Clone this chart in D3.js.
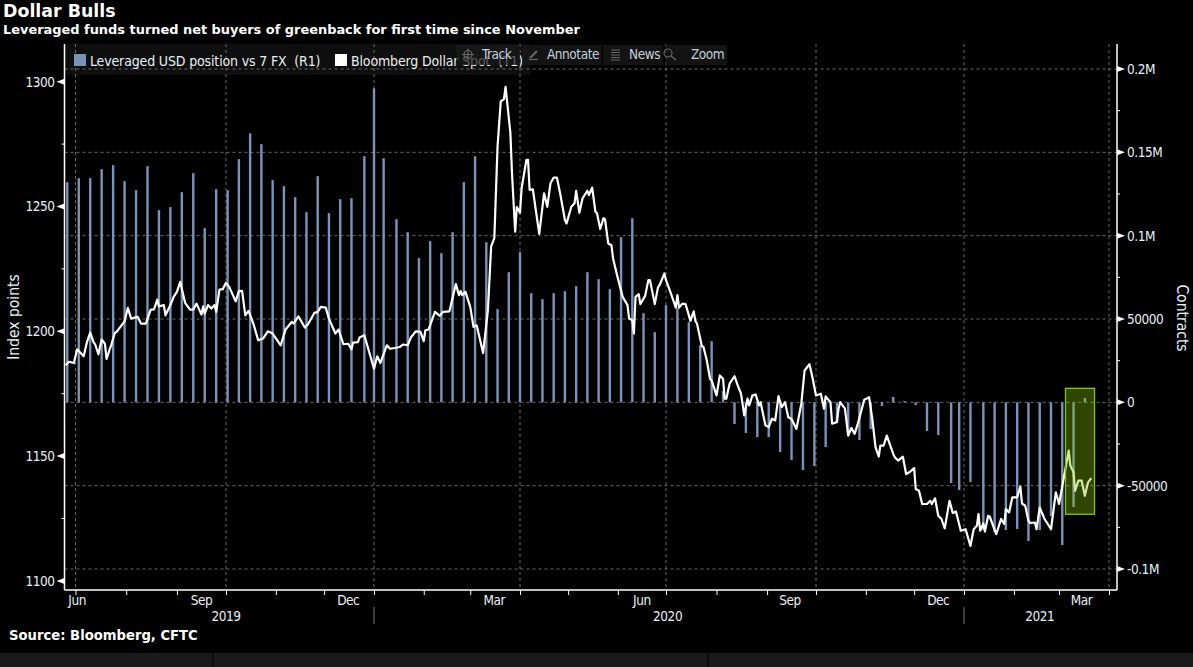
<!DOCTYPE html>
<html>
<head>
<meta charset="utf-8">
<script src="https://cdnjs.cloudflare.com/ajax/libs/d3/7.8.5/d3.min.js"></script>
<style>
  html, body { margin: 0; padding: 0; background: #000; overflow: hidden; }
  text { fill: #e9eff5; }
  .tick-label { font-family: "DejaVu Sans Condensed", "DejaVu Sans", sans-serif; font-stretch: condensed; font-size: 13.5px; letter-spacing: -0.45px; }
  .head { font-family: "DejaVu Sans", sans-serif; font-weight: bold; fill: #fff; }
  .grid { stroke: #6a6a6a; stroke-width: 1; stroke-dasharray: 3 3; fill: none; }
  .domain { stroke: #fff; stroke-width: 1.5; }
</style>
</head>
<body>
<div class="wrapper"></div>
<script>
var width = 1193, height = 667;
var parseDate = d3.utcParse("%Y-%m-%d");

// weekly leveraged fund positions, in thousands of contracts
var positionDates = [
  "2019-06-26","2019-07-03","2019-07-10","2019-07-17","2019-07-24","2019-07-31","2019-08-07","2019-08-14","2019-08-21","2019-08-28",
  "2019-09-04","2019-09-11","2019-09-18","2019-09-25","2019-10-02","2019-10-09","2019-10-16","2019-10-23","2019-10-30","2019-11-06",
  "2019-11-13","2019-11-20","2019-11-27","2019-12-04","2019-12-11","2019-12-18","2019-12-26","2020-01-01","2020-01-07","2020-01-15",
  "2020-01-22","2020-01-29","2020-02-05","2020-02-12","2020-02-19","2020-02-26","2020-03-04","2020-03-11","2020-03-18","2020-03-25",
  "2020-04-01","2020-04-08","2020-04-15","2020-04-22","2020-04-29","2020-05-06","2020-05-13","2020-05-20","2020-05-27","2020-06-03",
  "2020-06-10","2020-06-17","2020-06-24","2020-07-01","2020-07-08","2020-07-15","2020-07-22","2020-07-29","2020-08-05","2020-08-12",
  "2020-08-19","2020-08-26","2020-09-02","2020-09-09","2020-09-16","2020-09-23","2020-09-30","2020-10-07","2020-10-14","2020-10-21",
  "2020-10-28","2020-11-04","2020-11-11","2020-11-18","2020-11-25","2020-12-02","2020-12-09","2020-12-16","2020-12-24","2020-12-29",
  "2021-01-05","2021-01-13","2021-01-20","2021-01-27","2021-02-03","2021-02-10","2021-02-17","2021-02-24","2021-03-03","2021-03-10","2021-03-17"
];
var positionValues = [
  132.1,134.5,134.5,139.9,142.3,132.7,127.3,141.7,115.3,117.1,
  126.1,137.5,104.5,127.9,127.3,145.9,161.4,154.9,133.3,129.7,
  123.1,114.1,135.7,113.5,121.9,122.5,147.7,188.4,146.5,109.9,
  102.1,86.5,96.7,89.5,102.1,132.1,147.7,96.1,55.9,78.1,
  90.1,65.5,61.9,65.5,66.7,69.7,78.1,73.9,67.9,99.1,
  110.5,53.5,42.1,58.3,56.5,48.1,34.3,36.7,6.8,-13,
  -18.4,-20.8,-20.8,-29.8,-34.6,-40.6,-38.2,-26.8,-12.4,-20.2,
  -22.6,-16,-2.2,3.2,0.8,-1.6,-17.2,-19.6,-48.4,-52.6,
  -47.8,-76.6,-77.8,-76.6,-76,-83.2,-76.6,-68.2,-85.6,-62.8,2.6
];

// spot index, days counted from 24 Jun 2019
var spotDays = [
  1,3,6,8,12,14,16,18,19,21,23,25,26,28,29,31,32,37,39,41,45,47,50,53,55,57,58,61,62,65,67,69,71,74,77,79,81,84,85,86,88,90,92,93,95,97,99,
  101,105,107,109,111,113,116,119,122,125,128,133,136,140,141,144,148,150,154,156,158,161,163,167,169,172,175,177,178,181,182,185,188,191,
  193,195,199,201,204,207,209,212,214,217,220,222,223,225,229,232,234,238,242,244,245,246,248,251,253,255,259,262,264,266,268,270,272,273,276,277,279,280,
  282,283,286,287,288,290,292,294,297,299,301,303,305,307,310,311,314,316,317,319,321,324,325,327,329,330,332,334,335,337,339,
  340,343,346,349,350,352,353,354,356,357,360,362,363,366,368,369,372,373,376,379,380,381,383,385,388,390,391,392,395,396,398,400,401,404,406,408,409,410,412,415,417,419,421,423,424,426,428,430,431,434,436,438,440,442,444,446,448,450,453,
  456,458,461,463,465,468,470,471,474,475,478,479,480,483,485,487,489,491,495,498,500,502,504,505,507,509,513,514,516,519,521,523,526,527,529,531,534,536,537,539,541,543,545,548,550,552,555,
  558,561,563,565,566,567,569,570,572,573,577,580,582,583,585,587,590,592,593,595,597,598,601,602,604,607,609,611,614,616,619,622,623,625,626,628,630,632,634,636
];
var spotLevels = [
  1186.4,1187.8,1187.3,1192.8,1190,1195.7,1199.5,1195.7,1194.8,1190.8,1196.7,1195,1188.9,1193,1194.8,1199.3,1199.7,1204,1209.4,1205.1,1205.8,1203.1,1203.1,1208.7,1208.8,1212.7,1210,1210.5,1206.4,1210.5,1213.8,1215.8,1219.8,1211.4,1208.7,1208.7,1211.1,1206.7,1210,1207.1,1210.5,1209.1,1210.5,1207.8,1216.7,1216.9,1219.4,
  1217.8,1212,1216.1,1216.2,1206.4,1208.2,1203.1,1196.4,1197.1,1200,1199.1,1194.4,1200.7,1203.8,1203.1,1206,1201.5,1202.8,1207.4,1207.8,1209.8,1209.5,1205.1,1199.1,1200.7,1194.8,1195,1192.8,1195.5,1195.7,1197.5,1198.4,1191.7,1185,
  1190,1187.3,1194.4,1193,1193.3,1193.7,1194.7,1194.4,1197.5,1200,1199.8,1196.1,1200.4,1200.7,1207.8,1206.2,1207.8,1208,1218.9,1214.5,1216.1,1214.5,1215.8,1209.8,1201.8,1202.4,1191.3,1208.5,1233.9,1237.3,1274,1292.1,1293,1297.9,1279.5,1263.4,1239.9,1249.8,
  1247.5,1257.3,1268.7,1268.7,1256.6,1256.9,1247.9,1239,1255.3,1249.9,1259.3,1261.6,1261.6,1255.3,1244.6,1243.2,1249.9,1251.3,1256.3,1247.5,1253.3,1256.3,1254.6,1257.6,1247.9,1247.3,1241,1245.3,1244.8,1235.2,1234.5,
  1229.2,1221.2,1213.8,1210.5,1205.1,1204.4,1199.1,1213.8,1214.9,1210.9,1214.2,1220.5,1220.5,1210.9,1217.6,1218.5,1223.2,1220.5,1215.2,1209.5,1214.5,1209.5,1211.1,1210.9,1204.2,1208,1204.2,1203.1,1194,1193.7,1188.4,1181,1180.3,1174.3,1182.3,1181,1173,1173,1179,1182,1178.3,1175,1166.3,1173,1170.3,1174.3,1174.7,1170.3,1171.6,1162.3,1161.6,1165,1164.3,1174,1169.6,1171.6,1165.6,1164.9,1160.9,
  1171,1184.3,1186.8,1181,1174.3,1175,1169,1173.9,1171.6,1163,1163.6,1169,1171.6,1169,1158.2,1161.3,1158.9,1163,1172.6,1173.6,1164.9,1153.6,1149.8,1154.2,1154.2,1158.2,1150.9,1149.5,1148.2,1149.8,1142.8,1143.5,1145.2,1136.8,1136.1,1130.8,1130.8,1132.1,1130.8,1133.1,1126.1,1124.8,1121,1132.1,1127.2,1127.8,1120.1,
  1120.7,1114,1120.7,1122.1,1126.8,1120.1,1123,1119.8,1126.1,1125.7,1118.7,1124.8,1122.8,1128.8,1127.4,1133.5,1133.5,1137.8,1131,1130.1,1124.1,1123.2,1123.4,1120.7,1129.4,1124.8,1122.8,1120.7,1135.5,1130.8,1141.5,1152.2,1146.2,1143.5,1136.1,1140.2,1140.2,1134.1,1139.5,1141.2
];

var levelTicks = [1100, 1150, 1200, 1250, 1300];
var levelMinorTicks = [1125, 1175, 1225, 1275];
var contractTicks = [-100000, -50000, 0, 50000, 100000, 150000, 200000];
var contractLabels = ["-0.1M", "-50000", "0", "50000", "0.1M", "0.15M", "0.2M"];
var contractMinorTicks = [-75000, -25000, 25000, 75000, 125000, 175000];
var monthLabels = ["Jun", "Sep", "Dec", "Mar", "Jun", "Sep", "Dec", "Mar"];
var monthLabelDates = ["2019-07-02", "2019-09-16", "2019-12-16", "2020-03-16", "2020-06-16", "2020-09-15", "2020-12-16", "2021-03-15"];
var yearLabels = ["2019", "2020", "2021"];
var yearLabelDates = ["2019-10-01", "2020-07-02", "2021-02-17"];
var yearBreaks = ["2020-01-01", "2021-01-01"];
var gridDates = ["2019-07-01", "2019-10-01", "2020-01-01", "2020-04-01", "2020-07-01", "2020-10-01", "2021-01-01", "2021-04-01"];
var highlightDates = ["2021-03-05", "2021-03-23"];
var highlightContracts = [8400, -67150];
var legendNames = ["Leveraged USD position vs 7 FX\u00a0 (R1)", "Bloomberg Dollar Spot\u00a0 (T1)"];
var toolNames = ["Track", "Annotate", "News", "Zoom"];

var plot = { left: 64.5, right: 1117, top: 44, bottom: 590 };
var spotStart = parseDate("2019-06-24");

// the time axis is not quite even, so the quarters are pinned to the picture
var x = d3.scaleUtc()
  .domain(["2019-06-24", "2019-07-01", "2019-10-01", "2020-01-01", "2020-04-01", "2020-07-01", "2020-10-01", "2021-01-01", "2021-04-01", "2021-04-06"].map(parseDate))
  .range([64, 75.5, 226, 374, 520, 666, 816, 964, 1109, 1117]);
var yLevel = d3.scaleLinear().domain([1100, 1300]).range([580.9, 81.7]);
var yContracts = d3.scaleLinear().domain([-100000, 200000]).range([569, 69]);

var svg = d3.select(".wrapper").append("svg")
  .attr("width", width)
  .attr("height", height)
  .style("display", "block");

/*----------------------------- legend strip -----------------------------*/
svg.append("rect")
  .attr("x", plot.left).attr("y", plot.top)
  .attr("width", 466).attr("height", 31)
  .attr("fill", "#0e0e0e");

/*----------------------------- grid -----------------------------*/
svg.selectAll(".grid-h")
  .data(contractTicks)
  .join("line")
  .attr("class", "grid")
  .attr("x1", plot.left).attr("x2", plot.right)
  .attr("y1", d => yContracts(d)).attr("y2", d => yContracts(d));

svg.selectAll(".grid-v")
  .data(gridDates)
  .join("line")
  .attr("class", "grid")
  .attr("x1", d => x(parseDate(d))).attr("x2", d => x(parseDate(d)))
  .attr("y1", plot.top).attr("y2", plot.bottom);

/*----------------------------- bars and line -----------------------------*/
svg.selectAll(".bar")
  .data(positionValues)
  .join("rect")
  .attr("class", "bar")
  .attr("x", (d, i) => x(parseDate(positionDates[i])) - 1.2)
  .attr("width", 2.4)
  .attr("y", d => Math.min(yContracts(d * 1000), yContracts(0)))
  .attr("height", d => Math.abs(yContracts(d * 1000) - yContracts(0)))
  .attr("fill", "#7b93b9");

var line = d3.line()
  .x(d => x(d3.utcDay.offset(spotStart, d)))
  .y((d, i) => yLevel(spotLevels[i]));

svg.append("path")
  .datum(spotDays)
  .attr("d", line)
  .attr("fill", "none")
  .attr("stroke", "#fff")
  .attr("stroke-width", 2.2)
  .attr("stroke-linejoin", "round");

// green highlight sits on top of the last weeks
svg.append("rect")
  .attr("x", x(parseDate(highlightDates[0])))
  .attr("y", yContracts(highlightContracts[0]))
  .attr("width", x(parseDate(highlightDates[1])) - x(parseDate(highlightDates[0])))
  .attr("height", yContracts(highlightContracts[1]) - yContracts(highlightContracts[0]))
  .attr("fill", "rgba(130,190,0,0.36)")
  .attr("stroke", "#86c800")
  .attr("stroke-width", 1.3);

/*----------------------------- axes -----------------------------*/
function drawAxis(scale, side, ticks, minors, xPos, labelFn) {
  var g = svg.append("g").attr("class", "y-axis");
  var dir = side === "left" ? -1 : 1;

  g.append("line")
    .attr("class", "domain")
    .attr("x1", xPos).attr("x2", xPos)
    .attr("y1", plot.top).attr("y2", plot.bottom);

  g.selectAll(".minor")
    .data(minors)
    .join("line")
    .attr("x1", xPos).attr("x2", xPos + dir * 3)
    .attr("y1", d => scale(d)).attr("y2", d => scale(d))
    .attr("stroke", "#fff");

  var major = g.selectAll(".major")
    .data(ticks)
    .join("g")
    .attr("transform", d => "translate(" + xPos + "," + scale(d) + ")");

  major.append("path")
    .attr("d", "M0,-3L" + dir * 8 + ",0L0,3Z")
    .attr("fill", "#fff");

  major.append("text")
    .attr("class", "tick-label")
    .attr("x", dir * 10)
    .attr("dy", "0.36em")
    .attr("text-anchor", side === "left" ? "end" : "start")
    .text(labelFn);
}

drawAxis(yLevel, "left", levelTicks, levelMinorTicks, plot.left, d => d);
drawAxis(yContracts, "right", contractTicks, contractMinorTicks, plot.right, (d, i) => contractLabels[i]);

var xAxis = d3.axisBottom(x)
  .tickValues(d3.utcMonth.range(parseDate("2019-07-01"), parseDate("2021-04-02")))
  .tickSize(5)
  .tickFormat("");

var xAxisG = svg.append("g")
  .attr("transform", "translate(0," + plot.bottom + ")")
  .call(xAxis);
xAxisG.select(".domain").remove();
xAxisG.selectAll("line").attr("stroke", "#fff");

svg.append("line")
  .attr("class", "domain")
  .attr("x1", plot.left).attr("x2", plot.right)
  .attr("y1", plot.bottom).attr("y2", plot.bottom);

svg.selectAll(".month-label")
  .data(monthLabels)
  .join("text")
  .attr("class", "tick-label")
  .attr("x", (d, i) => x(parseDate(monthLabelDates[i])))
  .attr("y", 605)
  .attr("text-anchor", "middle")
  .text(d => d);

svg.selectAll(".year-label")
  .data(yearLabels)
  .join("text")
  .attr("class", "tick-label")
  .attr("x", (d, i) => x(parseDate(yearLabelDates[i])))
  .attr("y", 621)
  .attr("text-anchor", "middle")
  .text(d => d);

svg.selectAll(".year-break")
  .data(yearBreaks)
  .join("line")
  .attr("x1", d => x(parseDate(d))).attr("x2", d => x(parseDate(d)))
  .attr("y1", 607).attr("y2", 624)
  .attr("stroke", "#777");

svg.append("text")
  .attr("class", "tick-label")
  .attr("transform", "translate(19,317) rotate(-90)")
  .attr("text-anchor", "middle")
  .style("font-size", "15.5px")
  .style("letter-spacing", "0")
  .text("Index points");

svg.append("text")
  .attr("class", "tick-label")
  .attr("transform", "translate(1177,318) rotate(90)")
  .attr("text-anchor", "middle")
  .style("font-size", "15.5px")
  .style("letter-spacing", "0")
  .text("Contracts");

/*----------------------------- legend -----------------------------*/
var legendSwatch = ["#7b93b9", "#ffffff"];
var legendX = [74, 335];

svg.selectAll(".legend-box")
  .data(legendNames)
  .join("rect")
  .attr("x", (d, i) => legendX[i]).attr("y", 54)
  .attr("width", 12).attr("height", 12)
  .attr("fill", (d, i) => legendSwatch[i]);

svg.selectAll(".legend-text")
  .data(legendNames)
  .join("text")
  .attr("class", "tick-label")
  .attr("x", (d, i) => legendX[i] + 16).attr("y", 66)
  .style("font-size", "14px")
  .style("letter-spacing", "-0.15px")
  .text(d => d);

/*----------------------------- toolbar -----------------------------*/
var toolX = [456, 522, 603, 666];
var toolW = [64, 80, 60, 61];
var toolTextX = [482, 547, 629, 691];

svg.selectAll(".tool-cell")
  .data(toolNames)
  .join("rect")
  .attr("x", (d, i) => toolX[i]).attr("y", 45)
  .attr("width", (d, i) => toolW[i]).attr("height", 20)
  .attr("fill", "rgba(26,26,26,0.72)");

svg.selectAll(".tool-text")
  .data(toolNames)
  .join("text")
  .attr("class", "tick-label")
  .attr("x", (d, i) => toolTextX[i]).attr("y", 59)
  .style("fill", "#c4d0dc")
  .text(d => d);

var icons = svg.append("g").attr("fill", "none").attr("stroke", "#666").attr("stroke-width", 1.2);
icons.append("circle").attr("cx", 468).attr("cy", 54.5).attr("r", 4);
icons.append("path").attr("d", "M468,48.5V60.5M462,54.5H474");
icons.append("path").attr("d", "M530,58L537,51").attr("stroke-width", 2.2);
icons.append("path").attr("d", "M529,59.5H538");
icons.append("path").attr("d", "M611,50H620M611,52.5H620M611,55H620M611,57.5H620M611,60H620");
icons.append("circle").attr("cx", 668).attr("cy", 53).attr("r", 4);
icons.append("path").attr("d", "M671,56L676,60");

/*----------------------------- titles -----------------------------*/
svg.append("text").attr("class", "head").attr("x", 3).attr("y", 17).style("font-size", "17.4px").text("Dollar Bulls");
svg.append("text").attr("class", "head").attr("x", 3).attr("y", 34).style("font-size", "12.93px")
  .text("Leveraged funds turned net buyers of greenback for first time since November");
svg.append("text").attr("class", "head").attr("x", 9).attr("y", 640).style("font-size", "13.2px").text("Source: Bloomberg, CFTC");

// dark strip along the bottom of the terminal window
svg.append("rect").attr("x", 0).attr("y", 653).attr("width", width).attr("height", 14).attr("fill", "#1a1a1a");
svg.selectAll(".strip-gap")
  .data([213, 708])
  .join("line")
  .attr("x1", d => d).attr("x2", d => d)
  .attr("y1", 653).attr("y2", 667)
  .attr("stroke", "#000");
</script>
</body>
</html>
